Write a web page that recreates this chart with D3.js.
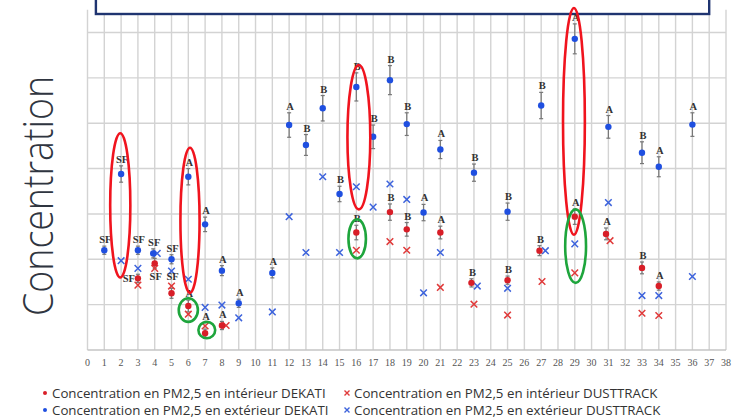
<!DOCTYPE html>
<html>
<head>
<meta charset="utf-8">
<script src="https://cdn.jsdelivr.net/npm/d3@7"></script>
<style>
  body { margin: 0; background: #fff; }
  svg { display: block; }
</style>
</head>
<body>
<div id="chart"></div>
<script>
// x = site number, v = concentration, e = half error bar, lab = letter, pos = letter placement
const outdoorDekati = [
  {x: 1, v: 22.0, e: 0.9, lab: "SF"}, {x: 2, v: 38.8, e: 1.8, lab: "SF"},
  {x: 3, v: 22.0, e: 0.9, lab: "SF"}, {x: 3.91, v: 21.3, e: 1.0, lab: "SF"},
  {x: 5, v: 20.0, e: 1.0, lab: "SF"}, {x: 6, v: 38.2, e: 1.8, lab: "A"},
  {x: 7, v: 27.7, e: 1.6, lab: "A"}, {x: 8, v: 17.5, e: 1.1, lab: "A"},
  {x: 9, v: 10.3, e: 0.9, lab: "A"}, {x: 11, v: 17.0, e: 1.1, lab: "A"},
  {x: 12, v: 49.6, e: 2.7, lab: "A"}, {x: 13, v: 45.2, e: 2.3, lab: "B"},
  {x: 14, v: 53.3, e: 2.8, lab: "B"}, {x: 15, v: 34.4, e: 1.7, lab: "B"},
  {x: 16, v: 58.0, e: 3.1, lab: "B"}, {x: 17, v: 47.0, e: 2.6, lab: "B"},
  {x: 18, v: 59.5, e: 3.2, lab: "B"}, {x: 19, v: 49.8, e: 2.5, lab: "B"},
  {x: 20, v: 30.3, e: 1.8, lab: "A"}, {x: 21, v: 44.2, e: 2.0, lab: "A"},
  {x: 23, v: 39.1, e: 1.9, lab: "B"}, {x: 25, v: 30.5, e: 1.9, lab: "B"},
  {x: 27, v: 53.9, e: 2.9, lab: "B"}, {x: 29, v: 68.6, e: 3.3, lab: "A"},
  {x: 31, v: 49.2, e: 2.5, lab: "A"}, {x: 33, v: 43.5, e: 2.4, lab: "B"},
  {x: 34, v: 40.4, e: 2.2, lab: "A"}, {x: 36, v: 49.7, e: 2.6, lab: "A"}
];

const indoorDekati = [
  {x: 3, v: 15.8, e: 0.9, lab: "SF", pos: "left"}, {x: 4, v: 19.1, e: 1.1, lab: "SF", pos: "below"},
  {x: 5, v: 12.5, e: 1.1, lab: "SF", pos: "up"}, {x: 6, v: 9.7, e: 1.3, lab: "A"},
  {x: 7, v: 3.7, e: 0.9, lab: "A", pos: "up"}, {x: 8, v: 5.4, e: 0.9, lab: "A"},
  {x: 16, v: 25.9, e: 1.6, lab: "B"}, {x: 18, v: 30.4, e: 1.8, lab: "B"},
  {x: 19, v: 26.6, e: 1.5, lab: "B"}, {x: 21, v: 25.9, e: 1.4, lab: "A"},
  {x: 22.85, v: 14.8, e: 0.9, lab: "B"}, {x: 25, v: 15.4, e: 0.9, lab: "B"},
  {x: 26.9, v: 21.9, e: 1.1, lab: "B"}, {x: 29, v: 29.4, e: 1.7, lab: "A"},
  {x: 30.86, v: 25.6, e: 1.3, lab: "A"}, {x: 33, v: 18.1, e: 1.3, lab: "B"},
  {x: 34, v: 14.1, e: 0.9, lab: "A"}
];

const outdoorDust = [
  {x: 2, v: 19.7}, {x: 3, v: 18.0}, {x: 4.15, v: 21.3}, {x: 5, v: 17.4},
  {x: 6, v: 15.6}, {x: 7, v: 9.4}, {x: 8, v: 9.9}, {x: 9, v: 7.1},
  {x: 11, v: 8.4}, {x: 12, v: 29.4}, {x: 13, v: 21.5}, {x: 14, v: 38.2},
  {x: 15, v: 21.5}, {x: 16, v: 36.0}, {x: 17, v: 31.5}, {x: 18, v: 36.6},
  {x: 19, v: 33.2}, {x: 20, v: 12.6}, {x: 21, v: 21.5}, {x: 23.2, v: 14.1},
  {x: 25, v: 13.6}, {x: 27.25, v: 21.9}, {x: 29, v: 23.4}, {x: 31, v: 32.5},
  {x: 33, v: 12.0}, {x: 34, v: 12.0}, {x: 36, v: 16.2}
];

const indoorDust = [
  {x: 3, v: 14.3}, {x: 4, v: 18.0}, {x: 5, v: 14.1}, {x: 6, v: 7.9},
  {x: 7, v: 5.3}, {x: 8.25, v: 5.4}, {x: 16, v: 22.0}, {x: 18, v: 23.9},
  {x: 19, v: 22.0}, {x: 21, v: 13.8}, {x: 23, v: 10.1}, {x: 25, v: 7.7},
  {x: 27.05, v: 15.1}, {x: 29, v: 17.0}, {x: 31.1, v: 24.1}, {x: 33, v: 8.1},
  {x: 34, v: 7.6}
];

// highlighted groups: centre x, low / high value, half width in x units
const redRings = [
  {x: 1.95, lo: 16.0, hi: 47.8, w: 0.6},
  {x: 6.1, lo: 12.6, hi: 44.6, w: 0.57},
  {x: 16.15, lo: 31.0, hi: 62.8, w: 0.68},
  {x: 28.95, lo: 25.4, hi: 75.4, w: 0.65}
];
const greenRings = [
  {x: 6.0, lo: 6.2, hi: 11.4, w: 0.57},
  {x: 7.1, lo: 2.6, hi: 6.2, w: 0.5},
  {x: 16.05, lo: 20.2, hi: 28.8, w: 0.52},
  {x: 29.05, lo: 14.8, hi: 31.0, w: 0.62}
];

const xTickLabels = d3.range(0, 39);
const yGrid = [10, 20, 30, 40, 50, 60, 70];
const yTitle = "Concentration";
const legendItems = [
  {text: "Concentration en PM2,5 en intérieur DEKATI", kind: "dot", color: "#d81e28"},
  {text: "Concentration en PM2,5 en extérieur DEKATI", kind: "dot", color: "#1f4fe0"},
  {text: "Concentration en PM2,5 en intérieur DUSTTRACK", kind: "cross", color: "#e03a3a"},
  {text: "Concentration en PM2,5 en extérieur DUSTTRACK", kind: "cross", color: "#3d63dc"}
];

const W = 733, H = 419;
const svg = d3.select("#chart").append("svg")
    .attr("width", W)
    .attr("height", H);

const x = d3.scaleLinear().domain([0, 38]).range([87.5, 726]);
const y = d3.scaleLinear().domain([0, 70]).range([350, 32.5]);
const gridTop = 75;

// Grid
const grid = svg.append("g");
grid.selectAll("line.v")
    .data(xTickLabels)
    .enter().append("line")
    .attr("x1", d => x(d)).attr("x2", d => x(d))
    .attr("y1", y(0)).attr("y2", y(gridTop))
    .attr("stroke", "#d3d3d3")
    .attr("stroke-width", 1.4);
grid.selectAll("line.h")
    .data(yGrid)
    .enter().append("line")
    .attr("x1", x(0)).attr("x2", x(38))
    .attr("y1", d => y(d)).attr("y2", d => y(d))
    .attr("stroke", "#d3d3d3")
    .attr("stroke-width", 1.4);
grid.append("line")
    .attr("x1", x(0)).attr("x2", x(38))
    .attr("y1", y(0)).attr("y2", y(0))
    .attr("stroke", "#c4c4c4")
    .attr("stroke-width", 1.4);

// x tick labels
svg.append("g")
    .selectAll("text")
    .data(xTickLabels)
    .enter().append("text")
    .attr("x", d => x(d))
    .attr("y", 365.5)
    .attr("text-anchor", "middle")
    .style("font-family", "'Liberation Serif', 'Times New Roman', serif")
    .style("font-size", "10px")
    .attr("fill", "#555")
    .text(d => d);

// y title
svg.append("text")
    .attr("transform", `translate(53, ${(y(0) + y(gridTop)) / 2 + 16}) rotate(-90)`)
    .attr("text-anchor", "middle")
    .attr("textLength", 240)
    .attr("lengthAdjust", "spacingAndGlyphs")
    .style("font-family", "'Open Sans', 'Noto Sans', sans-serif")
    .style("font-weight", 300)
    .style("font-size", "42px")
    .attr("fill", "#2f3540")
    .text(yTitle);

// title box (mostly cut off at the top)
svg.append("rect")
    .attr("x", x(0.5)).attr("y", -20)
    .attr("width", x(37) - x(0.5)).attr("height", 34)
    .attr("fill", "#fff")
    .attr("stroke", "#1f3470")
    .attr("stroke-width", 2.4);

// Error bars
function errorBars(data) {
    const g = svg.append("g").attr("stroke", "#777").attr("stroke-width", 1.2);
    g.selectAll("line.bar").data(data).enter().append("line")
        .attr("x1", d => x(d.x)).attr("x2", d => x(d.x))
        .attr("y1", d => y(d.v - d.e)).attr("y2", d => y(d.v + d.e));
    [-1, 1].forEach(s => {
        g.selectAll(null).data(data).enter().append("line")
            .attr("x1", d => x(d.x) - 2).attr("x2", d => x(d.x) + 2)
            .attr("y1", d => y(d.v + s * d.e)).attr("y2", d => y(d.v + s * d.e));
    });
}
errorBars(outdoorDekati);
errorBars(indoorDekati);

// Crosses
function crosses(data, color) {
    const s = 3.3;
    const g = svg.append("g").attr("stroke", color).attr("stroke-width", 1.5);
    g.selectAll("path").data(data).enter().append("path")
        .attr("d", d => {
            const cx = x(d.x), cy = y(d.v);
            return `M${cx - s},${cy - s}L${cx + s},${cy + s}M${cx - s},${cy + s}L${cx + s},${cy - s}`;
        });
}
crosses(outdoorDust, "#3d63dc");
crosses(indoorDust, "#e03a3a");

// Dots
function dots(data, color) {
    svg.append("g").selectAll("circle").data(data).enter().append("circle")
        .attr("cx", d => x(d.x))
        .attr("cy", d => y(d.v))
        .attr("r", 3.2)
        .attr("fill", color);
}
dots(outdoorDekati, "#1f4fe0");
dots(indoorDekati, "#d81e28");

// Letters
function letters(data) {
    svg.append("g").selectAll("text").data(data).enter().append("text")
        .attr("x", d => d.pos === "left" ? x(d.x) - 9 : x(d.x) + 1)
        .attr("y", d => {
            if (d.pos === "left") return y(d.v) + 3.5;
            if (d.pos === "below") return y(d.v) + 17;
            if (d.pos === "up") return y(d.v) - 13;
            return y(d.v + d.e) - 3;
        })
        .attr("text-anchor", "middle")
        .style("font-family", "'Liberation Serif', 'Times New Roman', serif")
        .style("font-weight", "bold")
        .style("font-size", "10.5px")
        .attr("fill", "#333")
        .text(d => d.lab);
}
letters(outdoorDekati);
letters(indoorDekati);

// Highlight rings
function rings(data, color) {
    svg.append("g").selectAll("ellipse").data(data).enter().append("ellipse")
        .attr("cx", d => x(d.x))
        .attr("cy", d => (y(d.lo) + y(d.hi)) / 2)
        .attr("rx", d => x(d.x + d.w) - x(d.x))
        .attr("ry", d => (y(d.lo) - y(d.hi)) / 2)
        .attr("fill", "none")
        .attr("stroke", color)
        .attr("stroke-width", 2.6);
}
rings(redRings, "#f0141e");
rings(greenRings, "#1ea53c");

// Legend
const legend = svg.append("g")
    .style("font-family", "'Open Sans', 'Noto Sans', sans-serif")
    .style("font-size", "13.3px")
    .attr("fill", "#333");
const lx = [45, 347], ly = [393, 410];
legendItems.forEach((d, i) => {
    const col = Math.floor(i / 2), row = i % 2;
    const g = legend.append("g").attr("transform", `translate(${lx[col]}, ${ly[row]})`);
    if (d.kind === "dot") {
        g.append("circle").attr("cx", 0).attr("cy", 0).attr("r", 2).attr("fill", d.color);
    } else {
        g.append("path").attr("d", "M-2.5,-2.5L2.5,2.5M-2.5,2.5L2.5,-2.5")
            .attr("stroke", d.color).attr("stroke-width", 1.4);
    }
    g.append("text").attr("x", 7).attr("y", 4.6).text(d.text);
});
</script>
</body>
</html>
